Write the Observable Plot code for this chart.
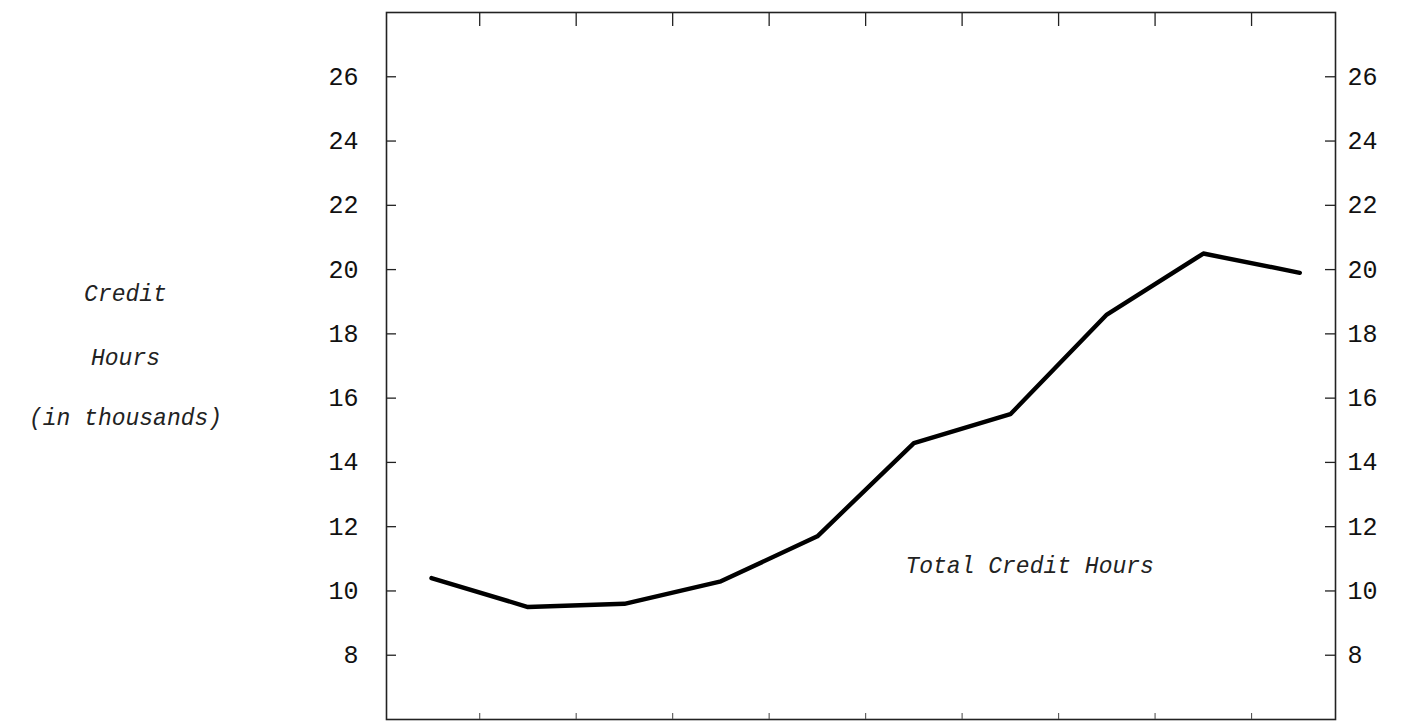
<!DOCTYPE html>
<html>
<head>
<meta charset="utf-8">
<script src="https://cdn.jsdelivr.net/npm/d3@7"></script>
<script src="https://cdn.jsdelivr.net/npm/@observablehq/plot@0.6"></script>
<style>
  html, body { margin: 0; padding: 0; background: #fff; }
  #chart svg { display: block; }
</style>
</head>
<body>
<div id="chart"></div>
<script>
// Years (unlabeled in the original), as sequence index
const yearIndex = [0, 1, 2, 3, 4, 5, 6, 7, 8, 9];
// Total credit hours, in thousands
const creditHours = [10.4, 9.5, 9.6, 10.3, 11.7, 14.6, 15.5, 18.6, 20.5, 19.9];
// Y tick values
const yTicks = [8, 10, 12, 14, 16, 18, 20, 22, 24, 26];
// X tick marks sit between years
const xTicks = [0.5, 1.5, 2.5, 3.5, 4.5, 5.5, 6.5, 7.5, 8.5];
// Axis title lines
const yTitleLines = ["Credit", "Hours", "(in thousands)"];
const seriesLabel = "Total Credit Hours";

const data = yearIndex.map((x, i) => ({x, y: creditHours[i]}));

const W = 1401, H = 721;
const mL = 386, mR = 66, mT = 12, mB = 2;
const innerW = W - mL - mR, innerH = H - mT - mB;
const mono = "'Liberation Mono', 'DejaVu Sans Mono', monospace";

// title line layout (pixels relative to the frame's top-left corner)
const titleCenterX = 125 - mL;
const titleBaselines = [300 - mT, 364 - mT, 424 - mT];

const chart = Plot.plot({
  width: W,
  height: H,
  marginLeft: mL,
  marginRight: mR,
  marginTop: mT,
  marginBottom: mB,
  style: {fontFamily: mono, background: "#fff", color: "#111"},
  x: {domain: [-0.466, 9.37], axis: null},
  y: {domain: [6, 28], axis: null},
  marks: [
    Plot.frame({stroke: "#222", strokeWidth: 1.6}),
    // inward ticks, left and right
    Plot.tickY(yTicks, {y: d => d, stroke: "#222", strokeWidth: 1.3, insetRight: innerW - 10}),
    Plot.tickY(yTicks, {y: d => d, stroke: "#222", strokeWidth: 1.3, insetLeft: innerW - 10}),
    // inward ticks, top and bottom
    Plot.tickX(xTicks, {x: d => d, stroke: "#222", strokeWidth: 1.3, insetBottom: innerH - 14}),
    Plot.tickX(xTicks, {x: d => d, stroke: "#555", strokeWidth: 1.1, insetTop: innerH - 6}),
    // tick labels
    Plot.axisY({anchor: "left", ticks: yTicks, tickSize: 0, tickPadding: 28, fontSize: 25, label: null, tickFormat: d => d, fill: "#111"}),
    Plot.axisY({anchor: "right", ticks: yTicks, tickSize: 0, tickPadding: 12, fontSize: 25, label: null, tickFormat: d => d, fill: "#111"}),
    // data line
    Plot.line(data, {x: "x", y: "y", stroke: "#000", strokeWidth: 4.4, strokeLinejoin: "round", strokeLinecap: "round"}),
    // series label
    Plot.text([seriesLabel], {x: 6.2, y: 10.8, text: d => d, fontSize: 23, fontStyle: "italic", textAnchor: "middle", fill: "#222"}),
    // y title lines
    ...yTitleLines.map((t, i) => Plot.text([t], {
      frameAnchor: "top-left",
      text: d => d,
      dx: titleCenterX,
      dy: titleBaselines[i],
      lineAnchor: "bottom",
      fontSize: 23,
      fontStyle: "italic",
      fill: "#222",
      textAnchor: "middle"
    }))
  ]
});

document.getElementById("chart").appendChild(chart);
</script>
</body>
</html>
